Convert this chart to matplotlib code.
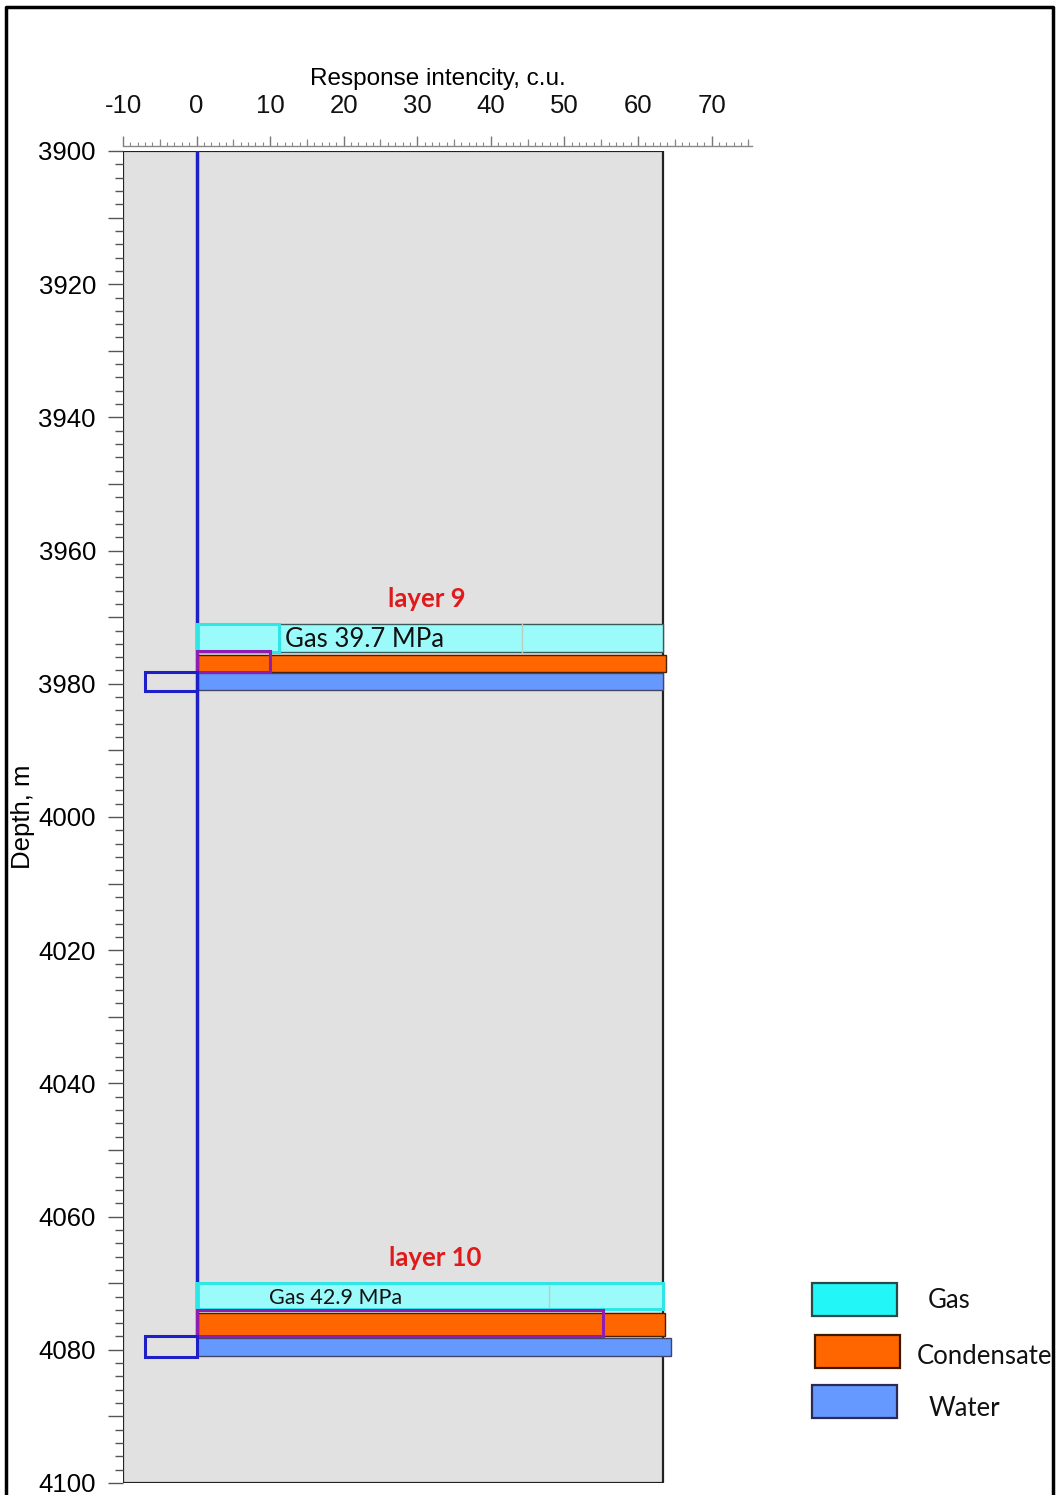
import matplotlib.pyplot as plt
from matplotlib.patches import Rectangle
from matplotlib.ticker import MultipleLocator, FuncFormatter

plt.rcParams['axes.unicode_minus'] = False

# ============================================================
# DATA
# ============================================================
layer_names = ['layer 9', 'layer 10']
layer_label_x = [31.3, 32.4]
layer_label_y = [3967.2, 4066.2]

gas_top = [3971.0, 4070.0]
gas_bot = [3975.2, 4073.9]
gas_right = [63.4, 63.4]
gas_mark = [11.2, 63.4]          # bright-cyan outlined part
gas_split = [44.2, 47.9]         # thin divider inside gas bar
gas_labels = ['Gas 39.7 MPa', 'Gas 42.9 MPa']
gas_label_x = [12.0, 9.8]
gas_label_size = [18.5, 15.5]

cond_top = [3975.7, 4074.5]
cond_bot = [3978.2, 4077.9]
cond_right = [63.8, 63.7]
cond_mark = [10.0, 55.2]
cond_mark_top = [3975.0, 4074.0]
cond_mark_bot = [3978.3, 4077.9]

water_top = [3978.4, 4078.2]
water_bot = [3981.0, 4080.9]
water_right = [63.4, 64.5]
water_mark = [-7.0, -7.0]
water_mark_top = [3978.3, 4077.9]
water_mark_bot = [3981.1, 4081.1]

well_top, well_bot = 3900, 4078.0
panel_right = 63.4

legend_names = ['Gas', 'Condensate', 'Water']

C_GAS = '#9BFBFB'
C_GAS_EDGE = '#2EE6E6'
C_GAS_LEG = '#22F6F6'
C_COND = '#FF6600'
C_WATER = '#6699FF'
C_PURPLE = '#8E1DB0'
C_BLUE = '#1F1FC8'
C_RED = '#E01A1A'

W, H = 1057, 1495
fig = plt.figure(figsize=(W / 100, H / 100), dpi=100)

# axes placed in pixel terms
x0, x1 = 123, 752
y0, y1 = 151, 1483
ax = fig.add_axes([x0 / W, 1 - y1 / H, (x1 - x0) / W, (y1 - y0) / H])
ax.set_xlim(-10, 75.5)
ax.set_ylim(4100, 3900)
ax.patch.set_alpha(0)

# gray panel
ax.add_patch(Rectangle((-10, 3900), panel_right + 10, 200,
                       facecolor='#E1E1E1', edgecolor='#222222', lw=1.6, zorder=0))

# well line
ax.plot([0, 0], [well_top, well_bot], color=C_BLUE, lw=2.5, zorder=3)

for i in range(len(layer_names)):
    # gas
    ax.barh((gas_top[i] + gas_bot[i]) / 2, gas_right[i], height=gas_bot[i] - gas_top[i],
            left=0, color=C_GAS, edgecolor='#3a5a5a', lw=1, zorder=2)
    ax.plot([gas_split[i]] * 2, [gas_top[i], gas_bot[i]], color='#B8CFC0', lw=1, zorder=2)
    ax.barh((gas_top[i] + gas_bot[i]) / 2, gas_mark[i], height=gas_bot[i] - gas_top[i],
            left=0, fill=False, edgecolor=C_GAS_EDGE, lw=2.2, zorder=3)
    ax.text(gas_label_x[i], (gas_top[i] + gas_bot[i]) / 2 + 0.2, gas_labels[i],
            fontsize=gas_label_size[i], family='Lato', va='center', ha='left', color='#111111', zorder=4)
    # condensate
    ax.barh((cond_top[i] + cond_bot[i]) / 2, cond_right[i], height=cond_bot[i] - cond_top[i],
            left=0, color=C_COND, edgecolor='#442200', lw=1, zorder=2)
    ax.barh((cond_mark_top[i] + cond_mark_bot[i]) / 2, cond_mark[i],
            height=cond_mark_bot[i] - cond_mark_top[i],
            left=0, fill=False, edgecolor=C_PURPLE, lw=2.2, zorder=3)
    # water
    ax.barh((water_top[i] + water_bot[i]) / 2, water_right[i], height=water_bot[i] - water_top[i],
            left=0, color=C_WATER, edgecolor='#444466', lw=1, zorder=2)
    ax.barh((water_mark_top[i] + water_mark_bot[i]) / 2, water_mark[i],
            height=water_mark_bot[i] - water_mark_top[i],
            left=0, fill=False, edgecolor=C_BLUE, lw=2.2, zorder=3)
    # layer label
    ax.text(layer_label_x[i], layer_label_y[i], layer_names[i], fontsize=18.5, family='Lato',
            fontweight='bold', color=C_RED, ha='center', va='center', zorder=4)

# spines
for s in ['right', 'bottom', 'left']:
    ax.spines[s].set_visible(False)
ax.spines['top'].set_position(('outward', 3.6))
ax.spines['top'].set_color('#888888')
ax.spines['top'].set_linewidth(1)

# top ruler
ax.xaxis.set_ticks_position('top')
ax.xaxis.set_label_position('top')
ax.set_xticks(list(range(-10, 80, 10)))
ax.xaxis.set_minor_locator(MultipleLocator(1))
ax.tick_params(axis='x', which='major', length=7.5, width=1, color='#777777',
               labelsize=18.5, pad=13, labelcolor='#111111')
ax.tick_params(axis='x', which='minor', length=3, width=0.8, color='#888888')
for lab in ax.get_xticklabels():
    lab.set_family('Liberation Sans')
ax.set_xlabel('Response intencity, c.u.', fontsize=17.5, family='Liberation Sans', labelpad=6)

# medium ruler ticks at 5s
sec = ax.secondary_xaxis('top')
sec.spines['top'].set_visible(False)
sec.spines['top'].set_position(('outward', 3.6))
sec.set_xticks([-5, 5, 15, 25, 35, 45, 55, 65, 75])
sec.tick_params(axis='x', which='major', length=5, width=0.9, color='#888888',
                labeltop=False, labelbottom=False)
sec.tick_params(axis='x', which='minor', length=0)

# left depth axis
ax.yaxis.set_major_locator(MultipleLocator(10))
ax.yaxis.set_minor_locator(MultipleLocator(2))
ax.yaxis.set_major_formatter(FuncFormatter(lambda v, p: f'{int(v)}' if int(round(v)) % 20 == 0 else ''))
ax.tick_params(axis='y', which='major', length=10.5, width=1, color='#555555', labelsize=18.5, pad=9)
ax.tick_params(axis='y', which='minor', length=6, width=1, color='#555555')
for lab in ax.get_yticklabels():
    lab.set_family('Liberation Sans')
ax.set_ylabel('Depth, m', fontsize=18.5, family='Liberation Sans', labelpad=2.5)

# legend (drawn in pixel space)
lax = fig.add_axes([0, 0, 1, 1])
lax.set_xlim(0, W)
lax.set_ylim(H, 0)
lax.axis('off')
leg_colors = [C_GAS_LEG, C_COND, C_WATER]
leg_edges = ['#2a4a4a', '#3a1a00', '#2a2a55']
leg_box_x = [812, 815, 812]
leg_box_y = [1283, 1335, 1385]
leg_text_x = [928, 917, 929]
leg_text_y = [1300, 1356, 1408]
for name, c, ec, bx, by, tx, ty in zip(legend_names, leg_colors, leg_edges,
                                       leg_box_x, leg_box_y, leg_text_x, leg_text_y):
    lax.add_patch(Rectangle((bx, by), 85, 33, facecolor=c, edgecolor=ec, lw=1.6))
    lax.text(tx, ty, name, fontsize=18.5, family='Lato', va='center', ha='left', color='#111111')

# outer frame
lax.plot([6, 6, 1053, 1053], [H + 5, 7, 7, H + 5], color='black', lw=2.5, clip_on=False)

fig.savefig('out.png', dpi=100)
